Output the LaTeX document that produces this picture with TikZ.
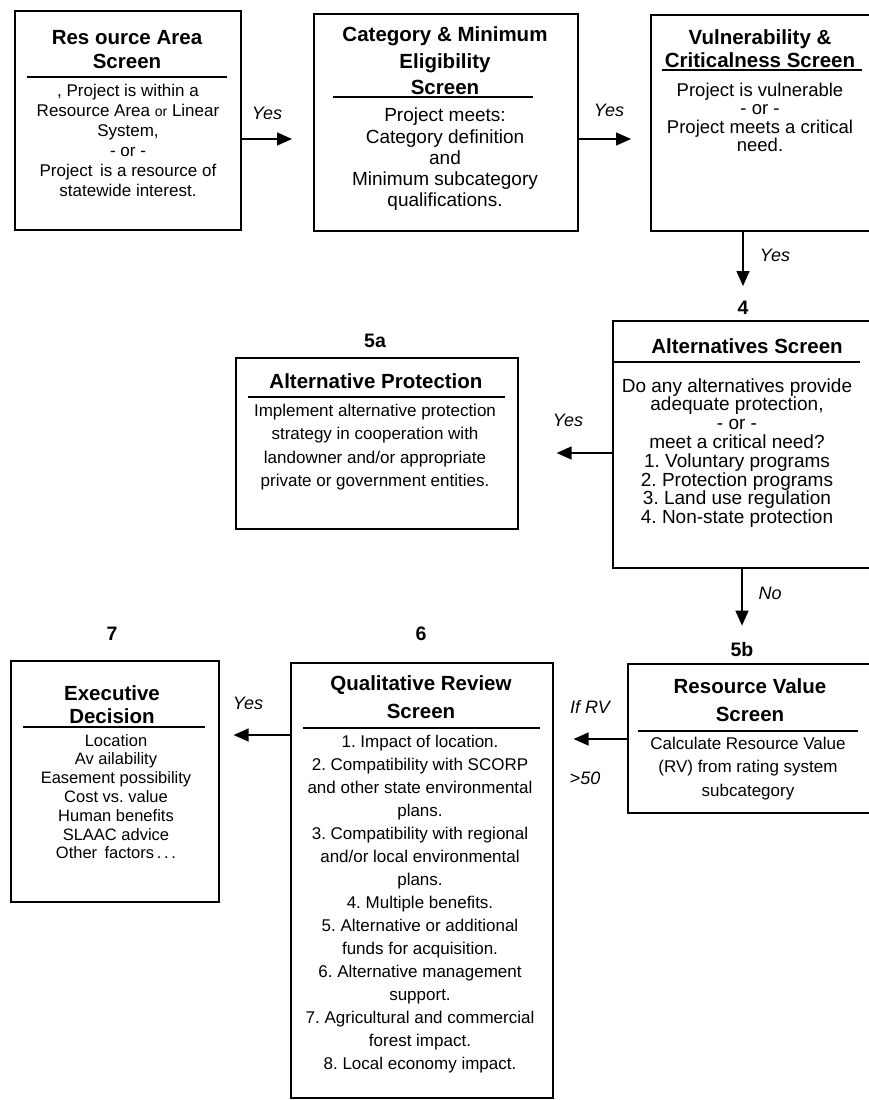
\documentclass[tikz,border=0pt]{standalone}
\usepackage{fontspec}
\setmainfont{Liberation Sans}
\frenchspacing
\usetikzlibrary{arrows.meta}
\tikzset{
  box/.style={draw, line width=1.6pt, inner sep=0pt, anchor=north west},
  hd/.style={font={\fontsize{20.5}{#1}\selectfont\bfseries}, align=center, inner sep=0pt},
  body/.style n args={2}{font={\fontsize{#1}{#2}\selectfont}, align=center, inner sep=0pt},
  rulel/.style={line width=1.2pt},
  arr/.style={line width=1.3pt, -{Triangle[length=15pt,width=13pt]}},
  lab/.style={font={\fontsize{18}{18}\selectfont\itshape}, inner sep=0pt},
  num/.style={font={\fontsize{19.5}{19.5}\selectfont\bfseries}, inner sep=0pt}
}
\begin{document}
\begin{tikzpicture}[x=1pt,y=-1pt]
\useasboundingbox (0,0) rectangle (869,1100);
\clip (0,0) rectangle (869,1100);
\fill[white] (0,0) rectangle (869,1100);

% ---- boxes ----
\node[box, minimum width=226pt, minimum height=219pt] (b1) at (14,10) {};
\node[box, minimum width=264pt, minimum height=217pt] (b2) at (313,13) {};
\node[box, minimum width=230pt, minimum height=216pt] (b3) at (650,14) {};
\node[box, minimum width=268pt, minimum height=247pt] (b4) at (612,320) {};
\node[box, minimum width=282pt, minimum height=171pt] (b5a) at (235,357) {};
\node[box, minimum width=253pt, minimum height=149pt] (b5b) at (627,663) {};
\node[box, minimum width=262pt, minimum height=435pt] (b6) at (290,662) {};
\node[box, minimum width=208pt, minimum height=241pt] (b7) at (10,660) {};

% ---- box 1 ----
\node[hd=24] (b1h) at (127,50) {Res ource Area\\Screen};
\draw[rulel] (27,77) -- (227,77);
\node[body={17}{20}] (b1t) at (128,140) {, Project is within a\\Resource Area {\fontsize{14}{14}\selectfont or} Linear\\System,\\- or -\\Project\, is a resource of\\statewide interest.};

% ---- box 2 ----
\node[hd=26.5] (b2h) at (445,61) {Category \& Minimum\\Eligibility\\Screen};
\draw[rulel] (333,97) -- (533,97);
\node[body={19}{21.25}] (b2t) at (445,159.5) {Project meets:\\Category definition\\and\\Minimum subcategory\\qualifications.};

% ---- box 3 ----
\node[hd=23] (b3h) at (760,49) {Vulnerability \&\\Criticalness Screen};
\draw[rulel] (662,70) -- (862,70);
\node[body={18.5}{18.3}] (b3t) at (760,117.5) {Project is vulnerable\\- or -\\Project meets a critical\\need.};

% ---- box 4 ----
\node[hd=23] (b4h) at (747,346) {Alternatives Screen};
\draw[rulel] (613,362) -- (860,362);
\node[body={19}{18.8}] (b4t) at (737,453) {Do any alternatives provide\\adequate protection,\\- or -\\meet a critical need?\\1. Voluntary programs\\2. Protection programs\\3. Land use regulation\\4. Non-state protection};

% ---- box 5a ----
\node[hd=23] (b5ah) at (376,381) {Alternative Protection};
\draw[rulel] (248,397) -- (505,397);
\node[body={17}{23.3}] (b5at) at (375,447) {Implement alternative protection\\strategy in cooperation with\\landowner and/or appropriate\\private or government entities.};

% ---- box 5b ----
\node[hd=28] (b5bh) at (750,700) {Resource Value\\Screen};
\draw[rulel] (638,731) -- (858,731);
\node[body={17}{23.5}] (b5bt) at (748,768.5) {Calculate Resource Value\\(RV) from rating system\\subcategory};

% ---- box 6 ----
\node[hd=28] (b6h) at (421,697) {Qualitative Review\\Screen};
\draw[rulel] (303,728) -- (540,728);
\node[body={17}{23}] (b6t) at (420,904) {1. Impact of location.\\2. Compatibility with SCORP\\and other state environmental\\plans.\\3. Compatibility with regional\\and/or local environmental\\plans.\\4. Multiple benefits.\\5. Alternative or additional\\funds for acquisition.\\6. Alternative management\\support.\\7. Agricultural and commercial\\forest impact.\\8. Local economy impact.};

% ---- box 7 ----
\node[hd=23] (b7h) at (112,705) {Executive\\Decision};
\draw[rulel] (23,727) -- (205,727);
\node[body={16.5}{18.8}] (b7t) at (116,796.5) {Location\\Av ailability\\Easement possibility\\Cost vs. value\\Human benefits\\SLAAC advice\\Other\, factors\,.\,.\,.};

% ---- step numbers ----
\node[num] (n4) at (743,308) {4};
\node[num] (n5a) at (375,341) {5a};
\node[num] (n5b) at (742,650) {5b};
\node[num] (n6) at (421,634) {6};
\node[num] (n7) at (112,634) {7};

% ---- connectors ----
\draw[arr] (b1.east |- 0,139) -- ([xshift=-21pt]b2.west |- 0,139);
\draw[arr] (b2.east |- 0,139) -- ([xshift=-19pt]b3.west |- 0,139);
\draw[arr] (b3.south -| n4) -- ([yshift=15pt]n4.north);
\draw[arr] (b4.west |- 0,453) -- ([xshift=38pt]b5a.east |- 0,453);
\draw[arr] (b4.south -| n5b) -- ([yshift=17pt]n5b.north);
\draw[arr] (b5b.west |- 0,739) -- ([xshift=20pt]b6.east |- 0,739);
\draw[arr] (b6.west |- 0,735) -- ([xshift=14pt]b7.east |- 0,735);

% ---- connector labels ----
\node[lab] (y12) at (267,113) {Yes};
\node[lab] (y23) at (609,110) {Yes};
\node[lab] (y34) at (775,255) {Yes};
\node[lab] (y45) at (568,420) {Yes};
\node[lab] (no45) at (770,593) {No};
\node[lab] (ifrv) at (590,707) {If RV};
\node[lab] (gt50) at (585,778) {>50};
\node[lab] (y67) at (248,703) {Yes};
\end{tikzpicture}
\end{document}
